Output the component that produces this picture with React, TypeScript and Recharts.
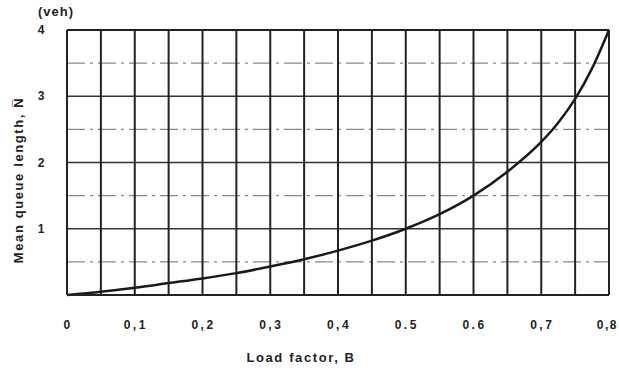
import { LineChart, Line, XAxis, YAxis, ReferenceLine } from 'recharts';

const LOAD_FACTOR = [0, 0.05, 0.1, 0.15, 0.2, 0.25, 0.3, 0.35, 0.4, 0.45, 0.5, 0.55, 0.6, 0.65, 0.7, 0.725, 0.75, 0.775, 0.8];
const QUEUE_LENGTH = [0, 0.05, 0.11, 0.18, 0.25, 0.33, 0.43, 0.54, 0.67, 0.82, 1.0, 1.22, 1.5, 1.86, 2.31, 2.6, 2.96, 3.42, 4.0];

const X_TICKS = [0, 0.1, 0.2, 0.3, 0.4, 0.5, 0.6, 0.7, 0.8];
const X_TICK_LABELS = ['0', '0,1', '0,2', '0,3', '0,4', '0.5', '0.6', '0,7', '0,8'];
const Y_TICKS = [1, 2, 3, 4];
const GRID_X = [0.05, 0.1, 0.15, 0.2, 0.25, 0.3, 0.35, 0.4, 0.45, 0.5, 0.55, 0.6, 0.65, 0.7, 0.75];
const GRID_Y_SOLID = [1, 2, 3];
const GRID_Y_DASHED = [0.5, 1.5, 2.5, 3.5];

const data = LOAD_FACTOR.map((b, i) => ({ b, n: QUEUE_LENGTH[i] }));

const FONT = '"Liberation Sans", Arial, sans-serif';

const XTick = ({ x, y, payload }: any) => {
  const idx = X_TICKS.indexOf(payload?.value);
  const last = idx === X_TICKS.length - 1;
  return (
    <text
      x={last ? x + 9 : x + 1}
      y={y + 26}
      textAnchor={last ? 'end' : 'middle'}
      fontFamily={FONT}
      fontWeight="bold"
      fontSize={12}
      letterSpacing={last ? 1.5 : 2.5}
      fill="#222"
    >
      {X_TICK_LABELS[idx] ?? ''}
    </text>
  );
};

const YTick = ({ x, y, payload }: any) => (
  <text x={x - 18} y={y + 4} textAnchor="middle" fontFamily={FONT} fontWeight="bold" fontSize={12} fill="#222">
    {payload?.value}
  </text>
);

const labelStyle = {
  position: 'absolute' as const,
  whiteSpace: 'nowrap' as const,
  fontSize: 13,
  fontWeight: 'bold' as const,
  letterSpacing: 1.6,
  color: '#222',
};

export default function App() {
  return (
    <div style={{ position: 'absolute', left: 0, top: 0, width: 619, height: 371, background: '#fff', fontFamily: FONT }}>
      <LineChart width={619} height={371} data={data} margin={{ top: 30, right: 10, left: 0, bottom: 0 }}>
        <XAxis
          dataKey="b"
          type="number"
          domain={[0, 0.8]}
          ticks={X_TICKS}
          tick={<XTick />}
          tickLine={false}
          axisLine={{ stroke: '#222', strokeWidth: 2 }}
          height={76}
        />
        <YAxis
          type="number"
          domain={[0, 4]}
          ticks={Y_TICKS}
          tick={<YTick />}
          tickLine={false}
          axisLine={{ stroke: '#222', strokeWidth: 2 }}
          width={67}
        />
        {GRID_Y_DASHED.map((v) => (
          <ReferenceLine key={'d' + v} y={v} stroke="#888" strokeWidth={1.2} strokeDasharray="18 5 3 5" />
        ))}
        {GRID_Y_SOLID.map((v) => (
          <ReferenceLine key={'s' + v} y={v} stroke="#333" strokeWidth={1.6} />
        ))}
        <ReferenceLine y={4} stroke="#222" strokeWidth={2} />
        {GRID_X.map((v) => (
          <ReferenceLine key={'x' + v} x={v} stroke="#222" strokeWidth={2} />
        ))}
        <ReferenceLine x={0.8} stroke="#222" strokeWidth={2} />
        <Line type="monotone" dataKey="n" stroke="#1a1a1a" strokeWidth={2.5} dot={false} isAnimationActive={false} />
      </LineChart>
      <div style={{ ...labelStyle, left: 38, top: 4, letterSpacing: 1 }}>(veh)</div>
      <div style={{ ...labelStyle, left: 18, top: 180, transform: 'translate(-50%, -50%) rotate(-90deg)' }}>
        Mean queue length, N̅
      </div>
      <div style={{ ...labelStyle, left: 301, top: 357, transform: 'translate(-50%, -50%)' }}>
        Load factor, B
      </div>
    </div>
  );
}
